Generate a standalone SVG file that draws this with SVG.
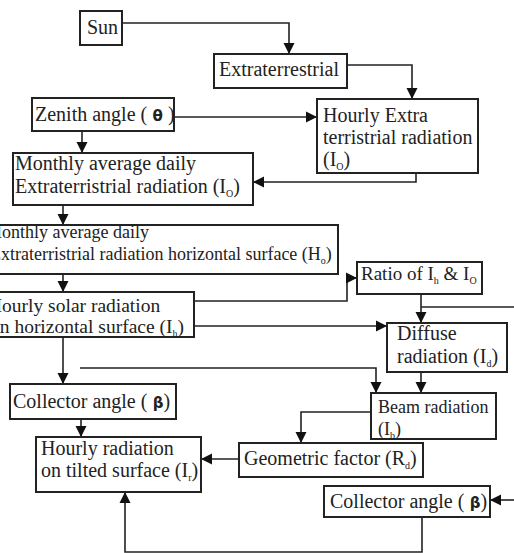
<svg xmlns="http://www.w3.org/2000/svg" width="514" height="553" viewBox="0 0 514 553">
<defs>
<marker id="ah" markerUnits="userSpaceOnUse" markerWidth="12" markerHeight="12" refX="11" refY="6" orient="auto">
<path d="M0,0.5 L11,6 L0,11.5 z" fill="#111"/>
</marker>
<style>
.box{fill:#fff;stroke:#222;stroke-width:2}
.t{font-family:"Liberation Serif","Times New Roman",serif;font-size:20px;fill:#222}
.m{font-size:18px}
.r{font-size:19px}
.h{font-size:19.5px}
.s{font-size:10px}
.g{font-family:"DejaVu Sans",sans-serif;font-weight:bold;font-size:15px}
.c{fill:none;stroke:#222;stroke-width:1.6;marker-end:url(#ah)}
.n{fill:none;stroke:#222;stroke-width:1.6}
</style>
</defs>
<rect width="514" height="553" fill="#fff"/>
<g id="connectors">
<path class="c" d="M122,23 H289 V54"/>
<path class="c" d="M347,65 H412 V99"/>
<path class="c" d="M174,117 H317"/>
<path class="c" d="M82,131 V153"/>
<path class="c" d="M416,173 V182 H253"/>
<path class="c" d="M63,205 V225"/>
<path class="c" d="M63,274 V292"/>
<path class="c" d="M194,301 H347 V278 H357"/>
<path class="c" d="M194,326 H387"/>
<path class="c" d="M421,294 V323"/>
<path class="n" d="M421,307 H514"/>
<path class="c" d="M63,337 V384"/>
<path class="c" d="M80,368 H376 V393"/>
<path class="c" d="M421,372 V393"/>
<path class="c" d="M371,412 H301 V443"/>
<path class="c" d="M239,459 H201"/>
<path class="c" d="M81,419 V437"/>
<path class="c" d="M514,500 H490"/>
<path class="c" d="M422,517 V552 H125 V492"/>
</g>
<g id="sun"><rect class="box" x="80" y="11" width="42" height="34"/><text class="t" x="87" y="34">Sun</text></g>
<g id="extraterrestrial"><rect class="box" x="214" y="54" width="133" height="34"/><text class="t" x="219" y="76">Extraterrestrial</text></g>
<g id="zenith"><rect class="box" x="32" y="98" width="142" height="33"/><text class="t" x="35" y="121">Zenith angle (<tspan class="g"> θ </tspan>)</text></g>
<g id="hourly-extra"><rect class="box" x="317" y="99" width="161" height="74"/>
<text class="t" x="323" y="122">Hourly Extra</text>
<text class="t" x="323" y="144">terristrial radiation</text>
<text class="t" x="323" y="166">(I<tspan class="s" dy="4">O</tspan><tspan dy="-4">)</tspan></text></g>
<g id="monthly-avg"><rect class="box" x="13" y="153" width="240" height="52"/>
<text class="t" x="15" y="170">Monthly average daily</text>
<text class="t" x="15" y="193">Extraterristrial radiation (I<tspan class="s" dy="4">O</tspan><tspan dy="-4">)</tspan></text></g>
<g id="monthly-horizontal"><rect class="box" x="-20" y="225" width="358" height="49"/>
<text class="t m" x="-14" y="238">Monthly average daily</text>
<text class="t m" x="-10" y="260">Extraterristrial radiation horizontal surface (H<tspan class="s" dy="4">o</tspan><tspan dy="-4">)</tspan></text></g>
<g id="hourly-solar"><rect class="box" x="-20" y="292" width="214" height="45"/>
<text class="t h" x="-12" y="312">Hourly solar radiation</text>
<text class="t h" x="-10" y="333">on horizontal surface (I<tspan class="s" dy="4">h</tspan><tspan dy="-4">)</tspan></text></g>
<g id="ratio"><rect class="box" x="357" y="262" width="125" height="32"/>
<text class="t r" x="361" y="280">Ratio of I<tspan class="s" dy="4">h</tspan><tspan dy="-4"> &amp; I</tspan><tspan class="s" dy="4">O</tspan></text></g>
<g id="diffuse"><rect class="box" x="387" y="323" width="120" height="49"/>
<text class="t" x="397" y="340">Diffuse</text>
<text class="t" x="397" y="363">radiation (I<tspan class="s" dy="4">d</tspan><tspan dy="-4">)</tspan></text></g>
<g id="collector-left"><rect class="box" x="10" y="384" width="166" height="35"/>
<text class="t" x="13" y="408">Collector angle (<tspan class="g"> β</tspan>)</text></g>
<g id="beam"><rect class="box" x="371" y="393" width="125" height="46"/>
<text class="t m" x="378" y="413">Beam radiation</text>
<text class="t m" x="378" y="435">(I<tspan class="s" dy="4">b</tspan><tspan dy="-4">)</tspan></text></g>
<g id="geometric"><rect class="box" x="239" y="443" width="184" height="34"/>
<text class="t" x="244" y="465">Geometric factor (R<tspan class="s" dy="4">d</tspan><tspan dy="-4">)</tspan></text></g>
<g id="hourly-tilted"><rect class="box" x="36" y="437" width="165" height="55"/>
<text class="t" x="41" y="455">Hourly radiation</text>
<text class="t" x="41" y="477">on tilted surface (I<tspan class="s" dy="4">r</tspan><tspan dy="-4">)</tspan></text></g>
<g id="collector-right"><rect class="box" x="324" y="486" width="166" height="31"/>
<text class="t" x="330" y="508">Collector angle (<tspan class="g"> β</tspan>)</text></g>
</svg>
